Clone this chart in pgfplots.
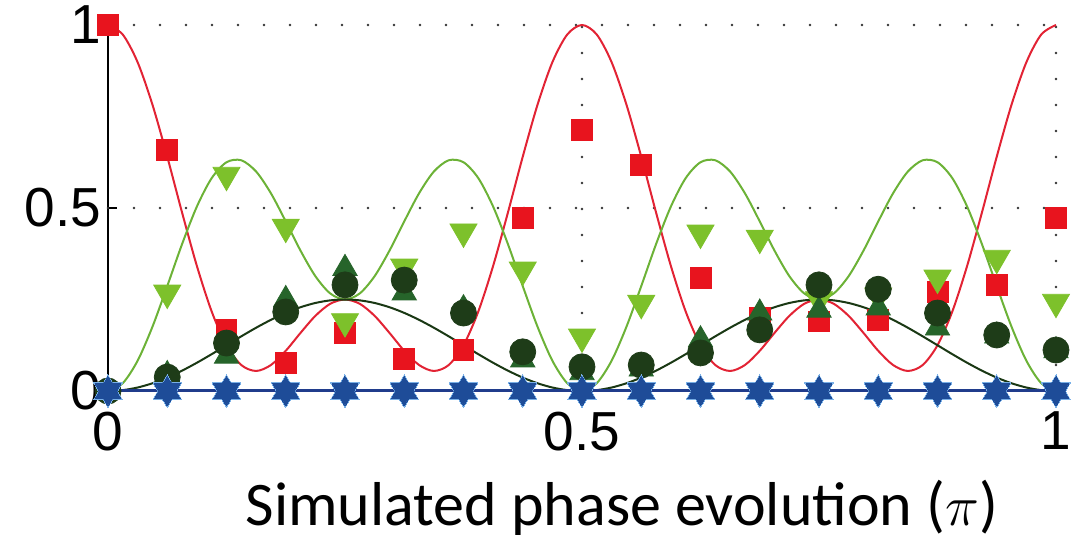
\documentclass[border=0pt]{standalone}
\usepackage{fontspec}
\setmainfont{Liberation Sans}
\newfontfamily\labelfont{Carlito}
\usepackage{pgfplots}
\usepackage{pgfplotstable}
\pgfplotsset{compat=1.18}

\definecolor{cred}{RGB}{226,35,52}
\definecolor{mred}{RGB}{232,20,30}
\definecolor{clgreen}{RGB}{108,178,55}
\definecolor{mlgreen}{RGB}{125,193,43}
\definecolor{cdgreen}{RGB}{26,56,20}
\definecolor{mdgreen}{RGB}{30,60,24}
\definecolor{mtgreen}{RGB}{38,100,42}
\definecolor{cblue}{RGB}{32,60,140}
\definecolor{mblue}{RGB}{30,76,152}
\definecolor{lblue}{RGB}{120,175,230}

% theory curves: x, red, light green, dark green
\pgfplotstableread{
x R L D
0        1       0       0
0.015625 0.97377 0.02143 0.00240
0.03125  0.89823 0.08274 0.00952
0.046875 0.78247 0.17540 0.02107
0.0625   0.64016 0.28661 0.03661
0.078125 0.48767 0.40122 0.05555
0.09375  0.34173 0.50394 0.07716
0.109375 0.21719 0.58158 0.10061
0.125    0.125   0.625   0.125
0.140625 0.07087 0.63036 0.14939
0.15625  0.05472 0.59961 0.17284
0.171875 0.07099 0.54012 0.19445
0.1875   0.10984 0.46339 0.21339
0.203125 0.15887 0.38326 0.22893
0.21875  0.20532 0.31371 0.24048
0.234375 0.23818 0.26663 0.24760
0.25     0.25    0.25    0.25
0.265625 0.23818 0.26663 0.24760
0.28125  0.20532 0.31371 0.24048
0.296875 0.15887 0.38326 0.22893
0.3125   0.10984 0.46339 0.21339
0.328125 0.07099 0.54012 0.19445
0.34375  0.05472 0.59961 0.17284
0.359375 0.07087 0.63036 0.14939
0.375    0.125   0.625   0.125
0.390625 0.21719 0.58158 0.10061
0.40625  0.34173 0.50394 0.07716
0.421875 0.48767 0.40122 0.05555
0.4375   0.64016 0.28661 0.03661
0.453125 0.78247 0.17540 0.02107
0.46875  0.89823 0.08274 0.00952
0.484375 0.97377 0.02143 0.00240
0.5      1       0       0
0.515625 0.97377 0.02143 0.00240
0.53125  0.89823 0.08274 0.00952
0.546875 0.78247 0.17540 0.02107
0.5625   0.64016 0.28661 0.03661
0.578125 0.48767 0.40122 0.05555
0.59375  0.34173 0.50394 0.07716
0.609375 0.21719 0.58158 0.10061
0.625    0.125   0.625   0.125
0.640625 0.07087 0.63036 0.14939
0.65625  0.05472 0.59961 0.17284
0.671875 0.07099 0.54012 0.19445
0.6875   0.10984 0.46339 0.21339
0.703125 0.15887 0.38326 0.22893
0.71875  0.20532 0.31371 0.24048
0.734375 0.23818 0.26663 0.24760
0.75     0.25    0.25    0.25
0.765625 0.23818 0.26663 0.24760
0.78125  0.20532 0.31371 0.24048
0.796875 0.15887 0.38326 0.22893
0.8125   0.10984 0.46339 0.21339
0.828125 0.07099 0.54012 0.19445
0.84375  0.05472 0.59961 0.17284
0.859375 0.07087 0.63036 0.14939
0.875    0.125   0.625   0.125
0.890625 0.21719 0.58158 0.10061
0.90625  0.34173 0.50394 0.07716
0.921875 0.48767 0.40122 0.05555
0.9375   0.64016 0.28661 0.03661
0.953125 0.78247 0.17540 0.02107
0.96875  0.89823 0.08274 0.00952
0.984375 0.97377 0.02143 0.00240
1        1       0       0
}\curves

% measured points: x, red squares, light green down-triangles, dark circles, dark triangles, blue
\pgfplotstableread{
x R L C T B
0      1.000 0.000 0.000 0.000 0
0.0625 0.658 0.268 0.038 0.045 0
0.125  0.168 0.590 0.131 0.095 0
0.1875 0.077 0.448 0.216 0.250 0
0.25   0.158 0.190 0.290 0.335 0
0.3125 0.087 0.339 0.303 0.268 0
0.375  0.112 0.435 0.213 0.225 0
0.4375 0.473 0.331 0.107 0.085 0
0.5    0.713 0.148 0.066 0.050 0
0.5625 0.617 0.240 0.071 0.060 0
0.625  0.310 0.432 0.104 0.140 0
0.6875 0.200 0.418 0.167 0.213 0
0.75   0.190 0.250 0.290 0.221 0
0.8125 0.194 0.260 0.278 0.227 0
0.875  0.270 0.309 0.213 0.172 0
0.9375 0.290 0.363 0.153 0.150 0
1      0.473 0.243 0.112 0.110 0
}\points

\begin{document}
\begin{tikzpicture}
\begin{axis}[
  name=ax,
  scale only axis,
  width=474pt, height=183pt,
  xmin=0, xmax=1, ymin=0, ymax=1,
  clip=false,
  axis lines*=left,
  x axis line style={draw=none},
  y axis line style={black, line width=1pt},
  xtick={0,0.5,1}, ytick={0,0.5,1},
  xtick style={draw=none},
  ytick style={black, line width=1pt},
  major tick length=4.5pt,
  tick align=inside,
  /pgf/number format/assume math mode=true,
  ticklabel style={font=\fontsize{27.5}{30}\selectfont},
  xticklabel style={yshift=-7pt},
  xlabel={Simulated phase evolution (\scalebox{1.15}{$\pi$})},
  xlabel style={font=\labelfont\fontsize{31}{34}\selectfont,
    at={(axis description cs:0.542,0)}, anchor=base, yshift=-67.5pt},
]
% dotted grid
\draw[black!80, line width=1.4pt, line cap=round, dash pattern=on 0pt off 13pt]
  (axis cs:0,1) -- (axis cs:1,1);
\draw[black!80, line width=1.4pt, line cap=round, dash pattern=on 0pt off 13pt]
  (axis cs:0,0.5) -- (axis cs:1,0.5);
\draw[black!80, line width=1.4pt, line cap=round, dash pattern=on 0pt off 13pt]
  (axis cs:0.5,0) -- (axis cs:0.5,1);
\draw[black!80, line width=1.4pt, line cap=round, dash pattern=on 0pt off 13pt]
  (axis cs:1,0) -- (axis cs:1,1);

% theory curves
\addplot[cred, line width=1pt, smooth, no markers] table[x=x, y=R] {\curves};
\addplot[clgreen, line width=1pt, smooth, no markers] table[x=x, y=L] {\curves};
\addplot[cdgreen, line width=1pt, smooth, no markers] table[x=x, y=D] {\curves};
\addplot[cblue, line width=1.5pt, no markers] coordinates {(0,0) (1,0)};

% measured points
\addplot[mred, only marks, mark=square*, mark size=5.2pt, mark options={fill=mred, draw=mred}] table[x=x, y=R] {\points};
\addplot[mlgreen, only marks, mark=triangle*, mark size=7.8pt, mark options={fill=mlgreen, draw=mlgreen, rotate=180}] table[x=x, y=L] {\points};
\addplot[mtgreen, only marks, mark=triangle*, mark size=7pt, mark options={fill=mtgreen, draw=mtgreen}] table[x=x, y=T] {\points};
\addplot[mdgreen, only marks, mark=*, mark size=6.5pt, mark options={fill=mdgreen, draw=mdgreen}] table[x=x, y=C] {\points};
\addplot[lblue, only marks, mark=triangle*, mark size=8.2pt, mark options={fill=lblue, draw=lblue, line width=0pt}] table[x=x, y=B] {\points};
\addplot[lblue, only marks, mark=triangle*, mark size=8.2pt, mark options={fill=lblue, draw=lblue, line width=0pt, rotate=180}] table[x=x, y=B] {\points};
\addplot[mblue, only marks, mark=triangle*, mark size=7.4pt, mark options={fill=mblue, draw=mblue, line width=0pt}] table[x=x, y=B] {\points};
\addplot[mblue, only marks, mark=triangle*, mark size=7.4pt, mark options={fill=mblue, draw=mblue, line width=0pt, rotate=180}] table[x=x, y=B] {\points};
\addplot[mblue, only marks, mark=*, mark size=4.6pt, mark options={fill=mblue, draw=mblue}] table[x=x, y=B] {\points};
\end{axis}
\pgfresetboundingbox
\path[use as bounding box] ([shift={(-54pt,-74pt)}]ax.south west) rectangle ([shift={(8pt,12.5pt)}]ax.north east);
\end{tikzpicture}
\end{document}
